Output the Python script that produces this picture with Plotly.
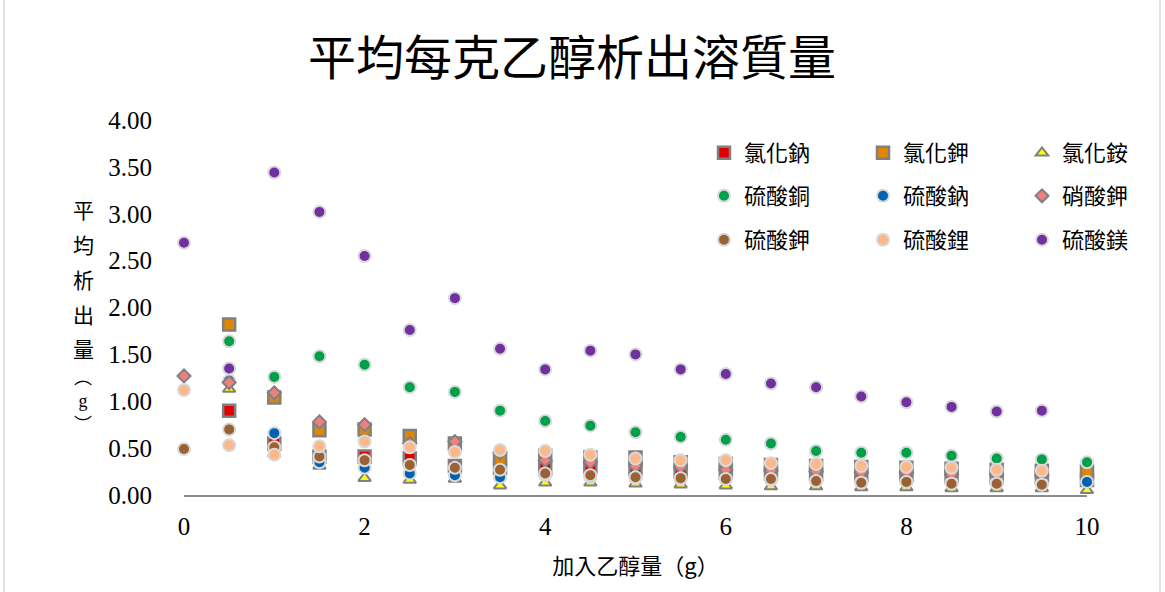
import plotly.graph_objects as go

# Ethanol added (g)
ethanol_g = [0, 0.5, 1, 1.5, 2, 2.5, 3, 3.5, 4, 4.5, 5,
             5.5, 6, 6.5, 7, 7.5, 8, 8.5, 9, 9.5, 10]

# Average precipitate per gram of ethanol (g), one list per solute
nacl = [None, 0.90, 0.55, 0.41, 0.41, 0.39, 0.31, 0.29, 0.28, 0.30, 0.28,
        0.25, 0.24, 0.23, 0.22, 0.21, 0.21, 0.20, 0.19, 0.19, 0.16]
kcl = [None, 1.82, 1.04, 0.69, 0.70, 0.63, 0.55, 0.39, 0.42, 0.40, 0.40,
       0.35, 0.33, 0.32, 0.31, 0.30, 0.29, 0.28, 0.27, 0.26, 0.25]
nh4cl = [None, 1.13, 0.44, 0.31, 0.18, 0.16, 0.17, 0.10, 0.13, 0.13, 0.12,
         0.11, 0.10, 0.09, 0.09, 0.08, 0.08, 0.07, 0.07, 0.07, 0.05]
cuso4 = [None, 1.64, 1.26, 1.48, 1.39, 1.15, 1.10, 0.90, 0.79, 0.74, 0.67,
         0.62, 0.59, 0.55, 0.47, 0.45, 0.45, 0.42, 0.39, 0.38, 0.35]
na2so4 = [None, 1.22, 0.66, 0.35, 0.29, 0.23, 0.21, 0.19, 0.21, 0.19, 0.18,
          0.17, 0.17, 0.16, 0.15, 0.14, 0.14, 0.13, 0.13, 0.12, 0.14]
kno3 = [1.27, 1.20, 1.09, 0.78, 0.75, 0.55, 0.57, 0.45, 0.37, 0.35, 0.31,
        0.30, 0.27, 0.26, 0.25, 0.24, 0.24, 0.22, 0.22, 0.21, None]
k2so4 = [0.49, 0.70, 0.51, 0.41, 0.37, 0.32, 0.29, 0.27, 0.23, 0.21, 0.19,
         0.18, 0.17, 0.17, 0.15, 0.13, 0.14, 0.12, 0.12, 0.11, None]
li2so4 = [1.12, 0.53, 0.43, 0.52, 0.57, 0.51, 0.46, 0.48, 0.47, 0.43, 0.39,
          0.37, 0.37, 0.34, 0.33, 0.31, 0.30, 0.29, 0.27, 0.26, None]
mgso4 = [2.69, 1.35, 3.44, 3.02, 2.55, 1.76, 2.10, 1.56, 1.34, 1.54, 1.50,
         1.34, 1.29, 1.19, 1.15, 1.05, 0.99, 0.94, 0.89, 0.90, None]

x_ticks = [0, 2, 4, 6, 8, 10]
y_ticks = [0, 0.5, 1.0, 1.5, 2.0, 2.5, 3.0, 3.5, 4.0]

CJK = "Noto Sans CJK TC"
SERIF = "Liberation Serif"

# name, values, symbol, fill, outline colour, size, outline width, legend row
series = [
    ("氯化鈉", nacl, "square", "#e00000", "#808080", 12, 2.5, "legend"),
    ("氯化鉀", kcl, "square", "#e08600", "#808080", 12, 2.5, "legend"),
    ("氯化銨", nh4cl, "triangle-up", "#ffff00", "#808080", 11, 2, "legend"),
    ("硫酸銅", cuso4, "circle", "#00a04a", "#d9d9d9", 12, 2, "legend2"),
    ("硫酸鈉", na2so4, "circle", "#0062b0", "#d9d9d9", 12, 2, "legend2"),
    ("硝酸鉀", kno3, "diamond", "#f08080", "#808080", 10, 2, "legend2"),
    ("硫酸鉀", k2so4, "circle", "#9a6132", "#d9d9d9", 12, 2, "legend3"),
    ("硫酸鋰", li2so4, "circle", "#fdb88a", "#d9d9d9", 12, 2, "legend3"),
    ("硫酸鎂", mgso4, "circle", "#7030a0", "#d9d9d9", 12, 2, "legend3"),
]

fig = go.Figure()
for name, vals, sym, fill, edge, size, lw, leg in series:
    fig.add_trace(go.Scatter(
        x=ethanol_g, y=vals, name=name, mode="markers",
        marker=dict(symbol=sym, color=fill, size=size,
                    line=dict(color=edge, width=lw)),
        cliponaxis=False, legend=leg,
    ))

L, R, T, B = 184, 78, 120, 97
W, H = 1165, 592
pw, ph = W - L - R, H - T - B


def px_x(px):
    return (px - L) / pw


def px_y(py):
    return (H - B - py) / ph


legend_common = dict(
    orientation="h", entrywidth=114, entrywidthmode="pixels",
    font=dict(family=CJK, size=22, color="#000000"),
    bgcolor="rgba(0,0,0,0)", xanchor="left", yanchor="middle",
    itemclick=False, itemdoubleclick=False,
)

fig.update_layout(
    width=W, height=H,
    margin=dict(l=L, r=R, t=T, b=B, autoexpand=False),
    paper_bgcolor="#ffffff", plot_bgcolor="#ffffff",
    showlegend=True,
    title=dict(text="平均每克乙醇析出溶質量", x=0.491, xanchor="center",
               y=1 - 58 / H, yanchor="middle",
               font=dict(family=CJK, size=48, color="#000000")),
    legend=dict(x=px_x(704), y=px_y(153), **legend_common),
    legend2=dict(x=px_x(704), y=px_y(196), **legend_common),
    legend3=dict(x=px_x(704), y=px_y(240), **legend_common),
    xaxis=dict(
        range=[0, 10], tickvals=x_ticks, ticktext=[str(v) for v in x_ticks],
        showgrid=False, zeroline=False, showline=True,
        linecolor="#8c8c8c", linewidth=2,
        ticks="outside", ticklen=0, ticklabelstandoff=8,
        tickfont=dict(family=SERIF, size=25, color="#000000"),
        title=dict(text="加入乙醇量（g）", standoff=20,
                   font=dict(family=CJK, size=22, color="#000000")),
    ),
    yaxis=dict(
        range=[0, 4], tickvals=y_ticks, tickformat=".2f",
        showgrid=False, zeroline=False, showline=False,
        ticks="outside", ticklen=0, ticklabelstandoff=26,
        tickfont=dict(family=SERIF, size=25, color="#000000"),
    ),
)

# vertical axis title, one glyph per line
ytitle_chars = ["平", "均", "析", "出", "量"]
ytitle_rows = [209, 244, 279, 314, 348]
for ch, row in zip(ytitle_chars, ytitle_rows):
    fig.add_annotation(
        text=ch, xref="paper", yref="paper", x=px_x(83), y=px_y(row),
        xanchor="center", yanchor="middle", showarrow=False,
        font=dict(family=CJK, size=21, color="#000000"),
    )
fig.add_annotation(
    text=("︵<br><span style='font-family:Liberation Serif'>g</span><br>︶"),
    xref="paper", yref="paper", x=px_x(83), y=px_y(399),
    xanchor="center", yanchor="middle", showarrow=False,
    font=dict(family=CJK, size=18, color="#000000"),
)

# chart frame
for edge_px in (4, 1160):
    fig.add_shape(type="line", xref="paper", yref="paper",
                  x0=px_x(edge_px), x1=px_x(edge_px),
                  y0=px_y(-5), y1=px_y(H + 5),
                  line=dict(color="#d9d9d9", width=1.5))

fig.write_html("out.html")
